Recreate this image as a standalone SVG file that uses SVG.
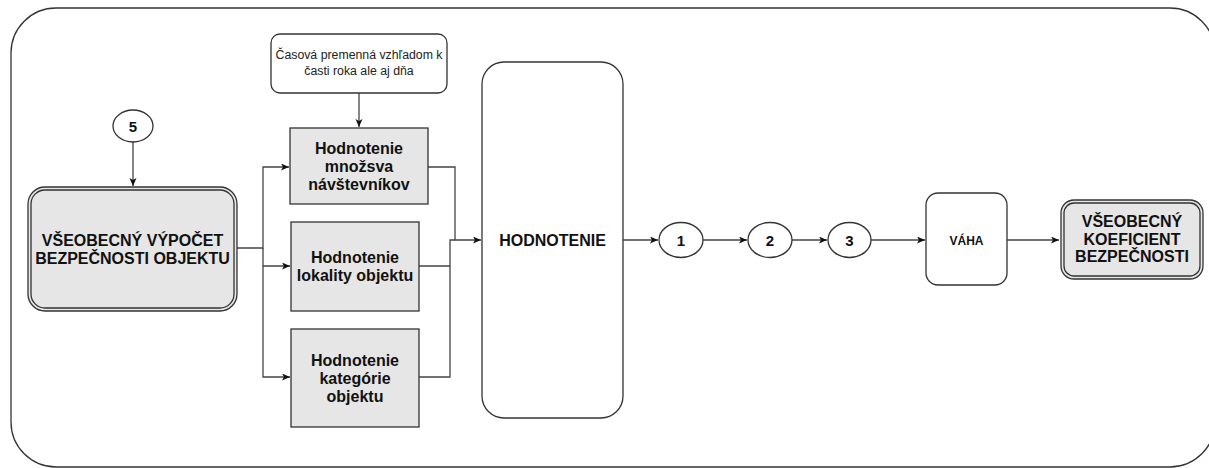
<svg xmlns="http://www.w3.org/2000/svg" width="1209" height="468" viewBox="0 0 1209 468">
<style>
.b{font-family:"Liberation Sans",Arial,sans-serif;font-weight:bold;fill:#111;text-anchor:middle}
.n{font-family:"Liberation Sans",Arial,sans-serif;fill:#222;text-anchor:middle}
.s{stroke:#333;stroke-width:1.3}
.c{fill:none;stroke:#444;stroke-width:1.3}
</style>
<defs>
<marker id="a" markerWidth="9" markerHeight="8" refX="8" refY="3.5" orient="auto" markerUnits="userSpaceOnUse">
<path d="M0,0 L8,3.5 L0,7 L2,3.5 z" fill="#111"/>
</marker>
</defs>
<rect x="11" y="8" width="1204" height="459" rx="45" fill="#fff" stroke="#333" stroke-width="1.3"/>
<g id="connectors">
<path class="c" d="M133,142 V186" marker-end="url(#a)"/>
<path class="c" d="M359,93 V127" marker-end="url(#a)"/>
<path class="c" d="M237,248 H263 V167 H289" marker-end="url(#a)"/>
<path class="c" d="M263,248 V266 H290" marker-end="url(#a)"/>
<path class="c" d="M263,266 V377 H290" marker-end="url(#a)"/>
<path class="c" d="M428,167 H455 V240 H481" marker-end="url(#a)"/>
<path class="c" d="M419,266 H450 V240 H455"/>
<path class="c" d="M419,377 H450 V266"/>
<path class="c" d="M623,240 H658" marker-end="url(#a)"/>
<path class="c" d="M703,240 H747" marker-end="url(#a)"/>
<path class="c" d="M792,240 H827" marker-end="url(#a)"/>
<path class="c" d="M871,240 H925" marker-end="url(#a)"/>
<path class="c" d="M1007,240 H1059" marker-end="url(#a)"/>
</g>
<g id="n5">
<ellipse class="s" cx="133" cy="126" rx="20" ry="16" fill="#fff"/>
<text class="b" x="133" y="131.5" font-size="15">5</text>
</g>
<g id="main">
<rect class="s" x="28" y="187" width="209" height="124" rx="17" fill="#e6e6e6"/>
<rect class="s" x="31" y="190" width="203" height="118" rx="14" fill="none"/>
<text class="b" x="132.5" y="246" font-size="16">VŠEOBECNÝ VÝPOČET</text>
<text class="b" x="132.5" y="264" font-size="16">BEZPEČNOSTI OBJEKTU</text>
</g>
<g id="note">
<rect class="s" x="271" y="34" width="176" height="59" rx="9" fill="#fff"/>
<text class="n" x="359" y="59" font-size="12.3">Časová premenná vzhľadom k</text>
<text class="n" x="359" y="75" font-size="12.3">časti roka ale aj dňa</text>
</g>
<g id="box1">
<rect class="s" x="290" y="128" width="138" height="76" fill="#e6e6e6"/>
<text class="b" x="359" y="153.5" font-size="16">Hodnotenie</text>
<text class="b" x="359" y="171.5" font-size="16">množsva</text>
<text class="b" x="359" y="189.5" font-size="16">návštevníkov</text>
</g>
<g id="box2">
<rect class="s" x="291" y="222" width="128" height="89" fill="#e6e6e6"/>
<text class="b" x="355" y="263" font-size="16">Hodnotenie</text>
<text class="b" x="355" y="281" font-size="16">lokality objektu</text>
</g>
<g id="box3">
<rect class="s" x="291" y="329" width="128" height="98" fill="#e6e6e6"/>
<text class="b" x="355" y="365.5" font-size="16">Hodnotenie</text>
<text class="b" x="355" y="383.5" font-size="16">kategórie</text>
<text class="b" x="355" y="401.5" font-size="16">objektu</text>
</g>
<g id="hodnotenie">
<rect class="s" x="482" y="62" width="141" height="356" rx="22" fill="#fff"/>
<text class="b" x="552.5" y="246" font-size="16">HODNOTENIE</text>
</g>
<g id="n1">
<ellipse class="s" cx="681" cy="240" rx="22" ry="17.5" fill="#fff"/>
<text class="b" x="681" y="245.5" font-size="15">1</text>
</g>
<g id="n2">
<ellipse class="s" cx="770" cy="240" rx="22" ry="17.5" fill="#fff"/>
<text class="b" x="770" y="245.5" font-size="15">2</text>
</g>
<g id="n3">
<ellipse class="s" cx="849.5" cy="240" rx="21.5" ry="17.5" fill="#fff"/>
<text class="b" x="849.5" y="245.5" font-size="15">3</text>
</g>
<g id="vaha">
<rect class="s" x="926" y="193" width="81" height="92" rx="12" fill="#fff"/>
<text class="b" x="966.5" y="244.5" font-size="12">VÁHA</text>
</g>
<g id="final">
<rect class="s" x="1061" y="200" width="142" height="79" rx="13" fill="#e6e6e6"/>
<rect class="s" x="1064" y="203" width="136" height="73" rx="10" fill="none"/>
<text class="b" x="1132" y="227" font-size="16">VŠEOBECNÝ</text>
<text class="b" x="1132" y="244.5" font-size="16">KOEFICIENT</text>
<text class="b" x="1132" y="262" font-size="16">BEZPEČNOSTI</text>
</g>
</svg>
